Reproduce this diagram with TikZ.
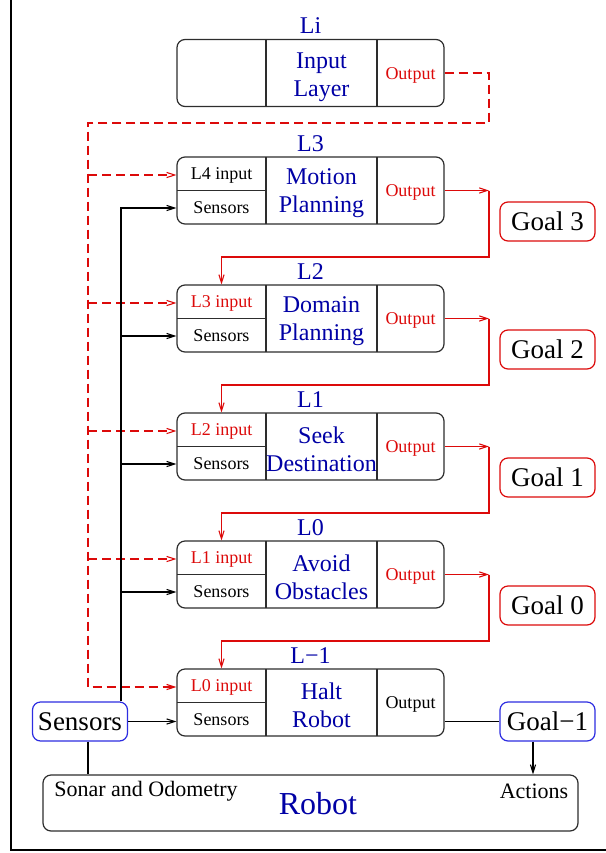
\documentclass[tikz,border=0pt]{standalone}
\usepackage{fontspec}
\setmainfont{Liberation Serif}
\usetikzlibrary{arrows.meta}

\definecolor{fgblue}{RGB}{0,0,165}
\definecolor{fgred}{RGB}{220,10,10}
\definecolor{edge}{RGB}{45,45,45}
\definecolor{boxblue}{RGB}{45,45,225}

% one layer of the architecture: id, top edge, title, input text, input colour, module text, output colour
\newcommand\mklayer[7]{%
  \node[layerbox] (#1) at (310.5,#2+33.5) {};
  \node[titletext,anchor=base] (#1-t) at (310.5,#2-6) {#3};
  \draw[divider] (266,#2) -- (266,#2+67) (377,#2) -- (377,#2+67) (177,#2+33.5) -- (266,#2+33.5);
  \node[smalltext,text=#5] (#1-in) at (221.5,#2+18) {#4};
  \node[smalltext] (#1-sen) at (221.5,#2+51) {Sensors};
  \node[midtext] (#1-mid) at (321.5,#2+36) {#6};
  \node[smalltext,text=#7] (#1-out) at (410.5,#2+35) {Output};
}

\begin{document}
\begin{tikzpicture}[x=0.5pt,y=-0.5pt,
  every node/.style={inner sep=0pt},
  >={Straight Barb[length=4pt,width=2.6pt]},
  layerbox/.style={draw=edge,line width=0.6pt,rounded corners=4pt,minimum width=133.5pt,minimum height=33.5pt},
  divider/.style={draw=edge,line width=0.6pt},
  titletext/.style={text=fgblue,font=\fontsize{12pt}{13pt}\selectfont},
  midtext/.style={text=fgblue,align=center,font=\fontsize{12pt}{14pt}\selectfont},
  smalltext/.style={font=\fontsize{9pt}{10pt}\selectfont},
  goalbox/.style={draw=fgred,line width=0.6pt,rounded corners=4pt,minimum width=47.5pt,minimum height=19.5pt,font=\fontsize{13.5pt}{15pt}\selectfont},
  bluebox/.style={goalbox,draw=boxblue},
  robotbox/.style={draw=edge,line width=0.6pt,rounded corners=4pt,minimum width=267.5pt,minimum height=28pt},
  sigline/.style={draw=black,line width=0.55pt},
  redlink/.style={draw=fgred,line width=0.55pt},
  dashline/.style={draw=fgred,line width=0.55pt,dash pattern=on 4.5pt off 2.5pt}
]
\useasboundingbox (0,0) rectangle (606,853);

% page frame
\draw[line width=1.1pt] (11,0) -- (11,850) -- (606,850);

% input layer
\node[layerbox] (Li) at (310.5,73) {};
\node[titletext,anchor=base] (Li-t) at (310.5,33) {Li};
\draw[divider] (266,39) -- (266,107) (377,39) -- (377,107);
\node[midtext] (Li-mid) at (321.5,77) {Input\\Layer};
\node[smalltext,text=fgred] (Li-out) at (410.5,75) {Output};

% control layers
\mklayer{L3}{157}{L3}{L4 input}{black}{Motion\\Planning}{fgred}
\mklayer{L2}{285}{L2}{L3 input}{fgred}{Domain\\Planning}{fgred}
\mklayer{L1}{413}{L1}{L2 input}{fgred}{Seek\\Destination}{fgred}
\mklayer{L0}{541}{L0}{L1 input}{fgred}{Avoid\\Obstacles}{fgred}
\mklayer{Lm1}{669}{L−1}{L0 input}{fgred}{Halt\\Robot}{black}

% goals
\node[goalbox] (g3) at (547.5,221.5) {Goal 3};
\node[goalbox] (g2) at (547.5,349.5) {Goal 2};
\node[goalbox] (g1) at (547.5,477.5) {Goal 1};
\node[goalbox] (g0) at (547.5,605.5) {Goal 0};
\node[bluebox] (gm1) at (547.5,721.5) {Goal−1};

% sensors and robot
\node[bluebox] (sens) at (80,721.5) {Sensors};
\node[robotbox] (robot) at (310.5,803) {};
\node[font=\fontsize{11pt}{12pt}\selectfont,anchor=west] (sonar) at (54,791) {Sonar and Odometry};
\node[font=\fontsize{16pt}{17pt}\selectfont,text=fgblue] (robotlbl) at (318,804) {Robot};
\node[font=\fontsize{11pt}{12pt}\selectfont] (actions) at (534,791) {Actions};

% helper coordinates for the routing columns
\coordinate (dA) at (489,123);
\coordinate (dB) at (88,123);
\coordinate (xR) at (489,0);
\coordinate (xS) at (121,0);
\coordinate (xA) at (533,0);

% input-layer output fanned out to every layer (dashed)
\draw[dashline,->] (Li.east) -| (dA) -- (dB) |- (Lm1-in -| Lm1.west);
\foreach \n in {L3,L2,L1,L0}
  \draw[dashline,->] (dB |- \n-in) -- (\n-in -| \n.west);

% sensor bus
\draw[sigline,->] (sens.north -| xS) |- (L3-sen -| L3.west);
\foreach \n in {L2,L1,L0}
  \draw[sigline,->] (xS |- \n-sen) -- (\n-sen -| \n.west);
\draw[sigline,->] (sens.east) -- (sens.east -| Lm1.west);
\draw[sigline] (sens.south -| dB) -- (robot.north -| dB);

% each layer's output feeds the layer below
\foreach \a/\b in {L3/L2,L2/L1,L1/L0,L0/Lm1}{
  \draw[redlink,->] (\a.east) -- (\a.east -| xR);
  \draw[redlink,->] (\a.east -| xR) -- ++(0,66.5) -| (\b.north -| \b-in);
}

% bottom layer drives the robot
\draw[sigline] (gm1.west -| Lm1.east) -- (gm1.west);
\draw[sigline,->] (gm1.south -| xA) -- (robot.north -| xA);
\end{tikzpicture}
\end{document}
